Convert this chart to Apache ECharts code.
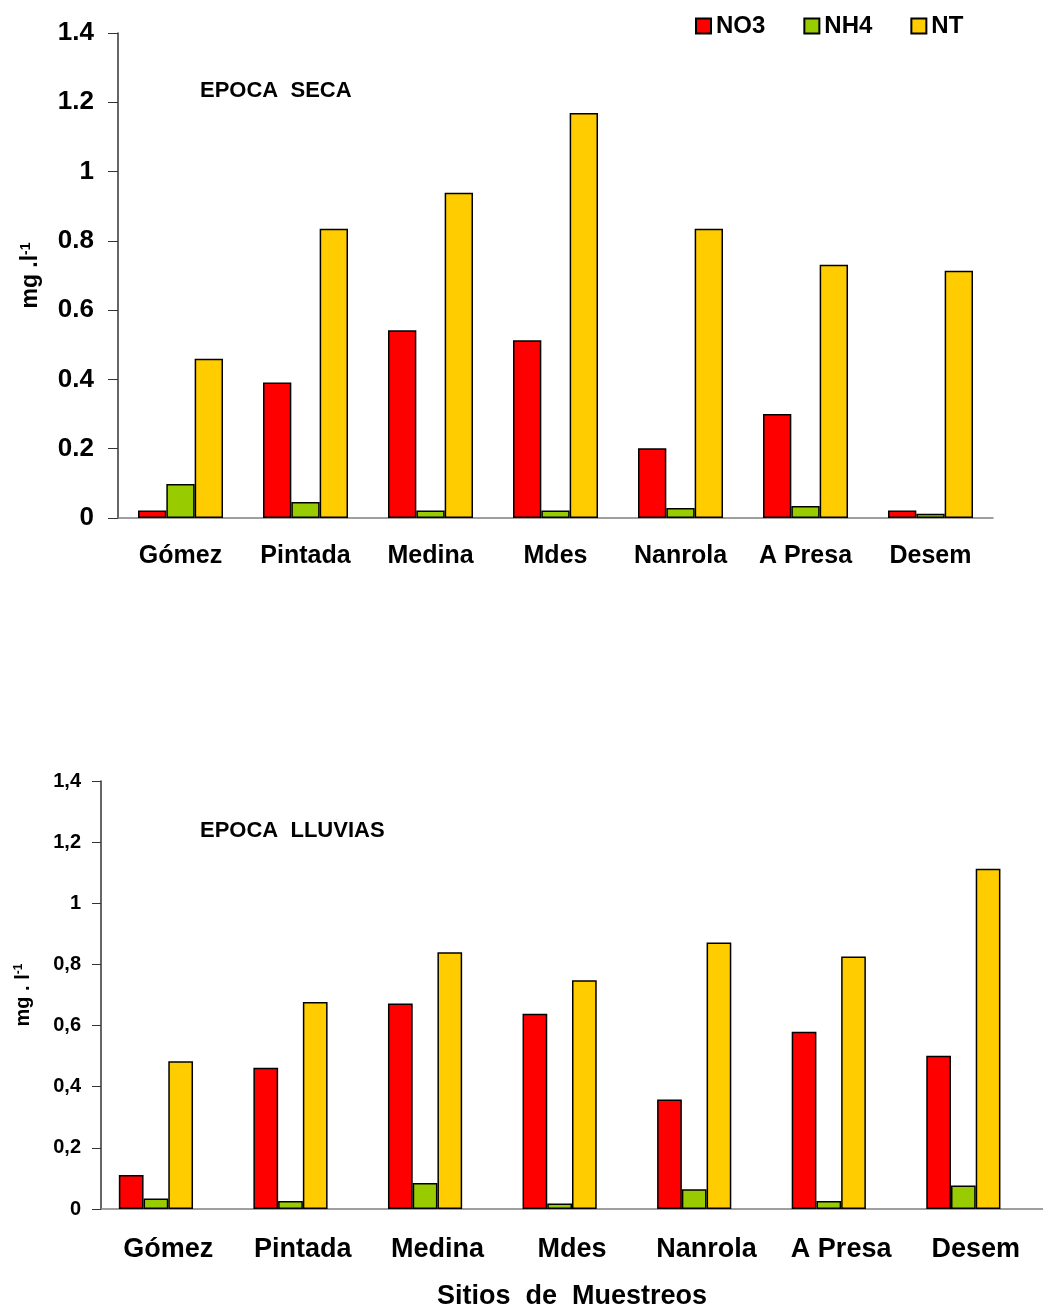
<!DOCTYPE html>
<html>
<head>
<meta charset="utf-8">
<script src="https://cdn.jsdelivr.net/npm/echarts@6/dist/echarts.min.js"></script>
<style>
html,body{margin:0;padding:0;background:#fff;}
#chart{width:1043px;height:1311px;}
</style>
</head>
<body>
<div id="chart"></div>
<script>
var sites = ['Gómez', 'Pintada', 'Medina', 'Mdes', 'Nanrola', 'A Presa', 'Desem'];
var seriesNames = ['NO3', 'NH4', 'NT'];
// Época seca
var secaNO3 = [0.022, 0.391, 0.542, 0.513, 0.201, 0.300, 0.022];
var secaNH4 = [0.098, 0.046, 0.022, 0.022, 0.029, 0.035, 0.012];
var secaNT  = [0.460, 0.835, 0.939, 1.169, 0.835, 0.731, 0.714];
// Época lluvias
var lluvNO3 = [0.111, 0.462, 0.672, 0.639, 0.358, 0.580, 0.501];
var lluvNH4 = [0.034, 0.026, 0.085, 0.018, 0.065, 0.026, 0.077];
var lluvNT  = [0.483, 0.677, 0.840, 0.748, 0.872, 0.826, 1.113];
var emptySlot = [null, null, null, null, null, null, null];

var titleSeca = 'EPOCA  SECA';
var titleLluvias = 'EPOCA  LLUVIAS';
var xName = 'Sitios  de  Muestreos';

var colors = ['#FF0000', '#99CC00', '#FFCC00'];
var FONT = '"Liberation Sans", Arial, sans-serif';

function barSeries(name, data, idx, color, gap) {
  return {
    type: 'bar', name: name, data: data,
    xAxisIndex: idx, yAxisIndex: idx,
    barGap: '0%', barCategoryGap: gap,
    itemStyle: { color: color, borderColor: '#000', borderWidth: 1.5 },
    emphasis: { disabled: true },
    animation: false
  };
}

var chart = echarts.init(document.getElementById('chart'));
chart.setOption({
  backgroundColor: '#fff',
  animation: false,
  textStyle: { fontFamily: FONT },
  title: [
    { text: titleSeca, left: 195, top: 75,
      textStyle: { fontSize: 22, fontWeight: 'bold', color: '#000', fontFamily: FONT } },
    { text: titleLluvias, left: 195, top: 815,
      textStyle: { fontSize: 22, fontWeight: 'bold', color: '#000', fontFamily: FONT } }
  ],
  legend: {
    data: seriesNames,
    left: 690, top: 9,
    icon: 'rect',
    itemWidth: 15, itemHeight: 15,
    itemGap: 38,
    textStyle: { fontSize: 24, fontWeight: 'bold', color: '#000', fontFamily: FONT }
  },
  grid: [
    { left: 118, top: 33, width: 875, height: 485 },
    { left: 101, top: 781, width: 953, height: 429 }
  ],
  xAxis: [
    { type: 'category', gridIndex: 0, data: sites,
      axisLine: { lineStyle: { color: '#808080', width: 1.5 } },
      axisTick: { length: 8, lineStyle: { color: '#333' } },
      axisLabel: { margin: 26, fontSize: 25, fontWeight: 'bold', color: '#000', fontFamily: FONT, interval: 0 } },
    { type: 'category', gridIndex: 1, data: sites,
      name: xName, nameLocation: 'middle', nameGap: 74,
      nameTextStyle: { fontSize: 27, fontWeight: 'bold', color: '#000', fontFamily: FONT },
      axisLine: { lineStyle: { color: '#808080', width: 1.5 } },
      axisTick: { length: 8, lineStyle: { color: '#333' } },
      axisLabel: { margin: 27, fontSize: 27, fontWeight: 'bold', color: '#000', fontFamily: FONT, interval: 0 } }
  ],
  yAxis: [
    { type: 'value', gridIndex: 0, min: 0, max: 1.4, interval: 0.2,
      name: '{a|mg .l}{s|-1}', nameLocation: 'middle', nameRotate: 90, nameGap: 76,
      nameTextStyle: { rich: {
        a: { fontSize: 23, fontWeight: 'bold', color: '#000', fontFamily: FONT },
        s: { fontSize: 14, fontWeight: 'bold', color: '#000', fontFamily: FONT, verticalAlign: 'top', padding: [0, 0, 9, 0] } } },
      splitLine: { show: false },
      axisLine: { show: true, lineStyle: { color: '#333', width: 1.5 } },
      axisTick: { show: true, length: 10, lineStyle: { color: '#333' } },
      axisLabel: { margin: 24, fontSize: 26, fontWeight: 'bold', color: '#000', fontFamily: FONT } },
    { type: 'value', gridIndex: 1, min: 0, max: 1.4, interval: 0.2,
      name: '{a|mg . l}{s|-1}', nameLocation: 'middle', nameRotate: 90, nameGap: 68,
      nameTextStyle: { rich: {
        a: { fontSize: 20, fontWeight: 'bold', color: '#000', fontFamily: FONT },
        s: { fontSize: 12, fontWeight: 'bold', color: '#000', fontFamily: FONT, verticalAlign: 'top', padding: [0, 0, 8, 0] } } },
      splitLine: { show: false },
      axisLine: { show: true, lineStyle: { color: '#333', width: 1.5 } },
      axisTick: { show: true, length: 9, lineStyle: { color: '#333' } },
      axisLabel: { margin: 20, fontSize: 20, fontWeight: 'bold', color: '#000', fontFamily: FONT,
        formatter: function (v) { return String(v).replace('.', ','); } } }
  ],
  series: [
    barSeries('NO3', secaNO3, 0, colors[0], '32%'),
    barSeries('NH4', secaNH4, 0, colors[1], '32%'),
    barSeries('NT',  secaNT,  0, colors[2], '32%'),
    barSeries('NO3', lluvNO3, 1, colors[0], '26.5%'),
    barSeries('NH4', lluvNH4, 1, colors[1], '26.5%'),
    barSeries('NT',  lluvNT,  1, colors[2], '26.5%'),
    barSeries('_slot', emptySlot, 1, 'transparent', '26.5%')
  ]
});
</script>
</body>
</html>
